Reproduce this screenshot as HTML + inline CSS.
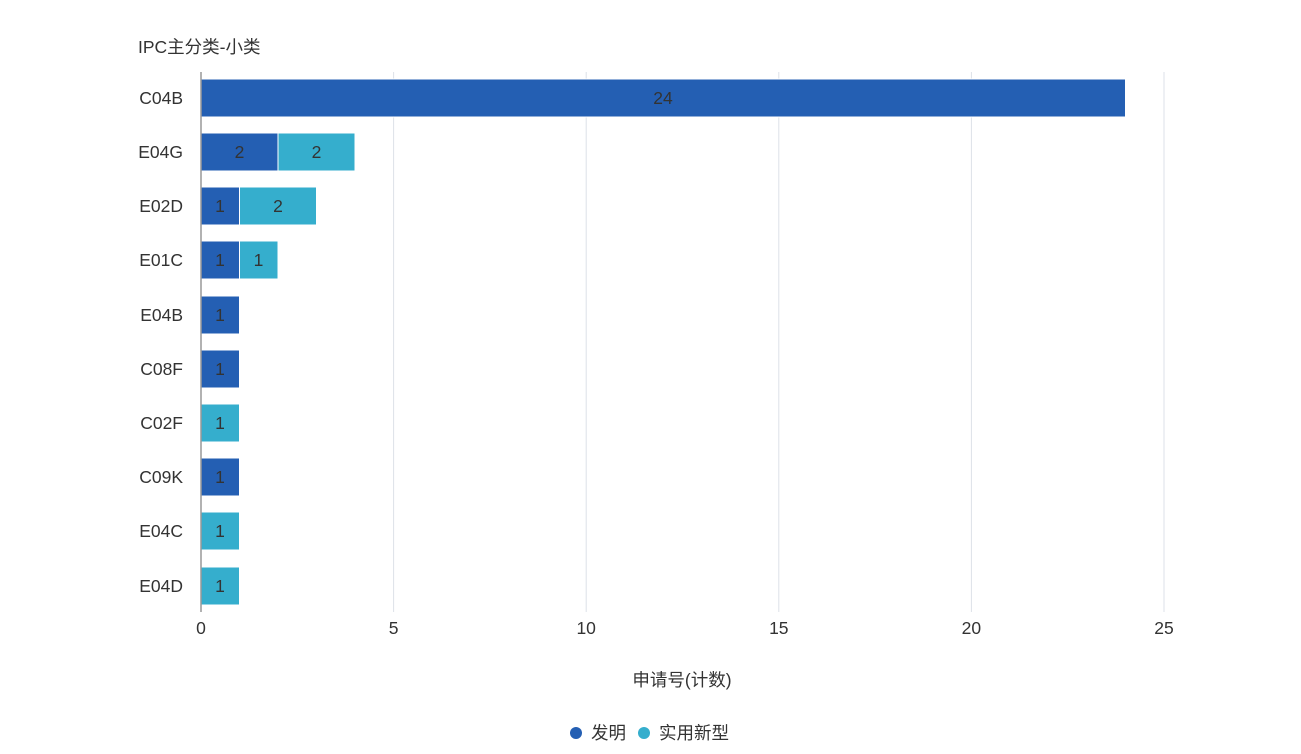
<!DOCTYPE html>
<html><head><meta charset="utf-8"><style>
html,body{margin:0;padding:0;background:#fff;}
text{font-family:"Liberation Sans","Noto Sans CJK SC",sans-serif;fill:#333;}
</style></head><body>
<svg width="1301" height="749" viewBox="0 0 1301 749" xmlns="http://www.w3.org/2000/svg">
<text x="138" y="53" font-size="17.5">IPC主分类-小类</text>
<g stroke="#dde1e8" stroke-width="1">
<line x1="393.6" y1="72" x2="393.6" y2="612"/>
<line x1="586.2" y1="72" x2="586.2" y2="612"/>
<line x1="778.8" y1="72" x2="778.8" y2="612"/>
<line x1="971.4" y1="72" x2="971.4" y2="612"/>
<line x1="1164" y1="72" x2="1164" y2="612"/>
</g>
<g font-size="17.5" text-anchor="middle">
<text x="201" y="634">0</text><text x="393.6" y="634">5</text><text x="586.2" y="634">10</text>
<text x="778.8" y="634">15</text><text x="971.4" y="634">20</text><text x="1164" y="634">25</text>
<text x="682" y="686">申请号(计数)</text>
</g>
<g font-size="17.5" text-anchor="end">
<text x="183" y="104">C04B</text><text x="183" y="158">E04G</text><text x="183" y="212">E02D</text>
<text x="183" y="266">E01C</text><text x="183" y="321">E04B</text><text x="183" y="375">C08F</text>
<text x="183" y="429">C02F</text><text x="183" y="483">C09K</text><text x="183" y="537">E04C</text>
<text x="183" y="592">E04D</text>
</g>
<g stroke="#fff" stroke-width="1">
<rect x="201" y="79" width="924.5" height="38" fill="#245fb3"/>
<rect x="201" y="133" width="77" height="38" fill="#245fb3"/>
<rect x="278" y="133" width="77" height="38" fill="#35aecd"/>
<rect x="201" y="187" width="38.5" height="38" fill="#245fb3"/>
<rect x="239.5" y="187" width="77" height="38" fill="#35aecd"/>
<rect x="201" y="241" width="38.5" height="38" fill="#245fb3"/>
<rect x="239.5" y="241" width="38.5" height="38" fill="#35aecd"/>
<rect x="201" y="296" width="38.5" height="38" fill="#245fb3"/>
<rect x="201" y="350" width="38.5" height="38" fill="#245fb3"/>
<rect x="201" y="404" width="38.5" height="38" fill="#35aecd"/>
<rect x="201" y="458" width="38.5" height="38" fill="#245fb3"/>
<rect x="201" y="512" width="38.5" height="38" fill="#35aecd"/>
<rect x="201" y="567" width="38.5" height="38" fill="#35aecd"/>
</g>
<line x1="201" y1="72" x2="201" y2="612" stroke="#999" stroke-width="1.5"/>
<g font-size="17.5" text-anchor="middle">
<text x="663" y="104">24</text>
<text x="239.5" y="158">2</text><text x="316.5" y="158">2</text>
<text x="220" y="212">1</text><text x="278" y="212">2</text>
<text x="220" y="266">1</text><text x="258.5" y="266">1</text>
<text x="220" y="321">1</text><text x="220" y="375">1</text><text x="220" y="429">1</text>
<text x="220" y="483">1</text><text x="220" y="537">1</text><text x="220" y="592">1</text>
</g>
<circle cx="576" cy="733" r="6" fill="#245fb3"/>
<text x="591" y="739" font-size="17.5">发明</text>
<circle cx="644" cy="733" r="6" fill="#35aecd"/>
<text x="659" y="739" font-size="17.5">实用新型</text>
</svg>
</body></html>
